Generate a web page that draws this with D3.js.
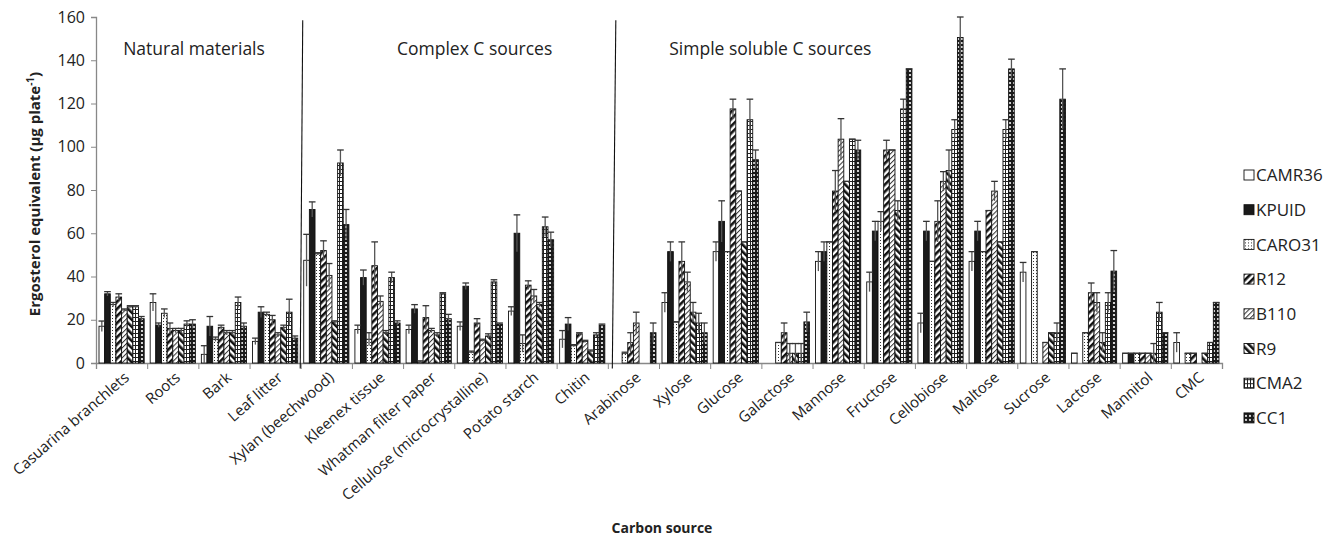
<!DOCTYPE html>
<html>
<head>
<meta charset="utf-8">
<script src="https://cdn.jsdelivr.net/npm/d3@7"></script>
<style>
  body { margin: 0; background: #fff; }
  text { font-family: "Open Sans", sans-serif; fill: #222; }
</style>
</head>
<body>
<div id="chart"></div>
<script>
var categories = ["Casuarina branchlets", "Roots", "Bark", "Leaf litter", "Xylan (beechwood)",
  "Kleenex tissue", "Whatman filter paper", "Cellulose (microcrystalline)", "Potato starch", "Chitin",
  "Arabinose", "Xylose", "Glucose", "Galactose", "Mannose", "Fructose", "Cellobiose", "Maltose",
  "Sucrose", "Lactose", "Mannitol", "CMC"];

var seriesNames = ["CAMR36", "KPUID", "CARO31", "R12", "B110", "R9", "CMA2", "CC1"];

var camr36 = [17, 28, 4, 10, 47.5, 15.5, 15.5, 17, 24, 11, 0, 28, 51.5, 0, 47, 37.5, 18.5, 47, 42, 4.5, 4.5, 9.5];
var kpuid = [32, 17.5, 17, 23.5, 71, 39.5, 25, 35.5, 60, 18, 0, 51.5, 65.5, 0, 51.5, 61, 61, 61, 0, 0, 4.5, 0];
var caro31 = [27, 23, 11, 22.5, 50.5, 11, 0.5, 5, 9, 8, 4.5, 19, 51.5, 9.5, 56, 65.5, 47, 51.5, 51.5, 14, 4.5, 4.5];
var r12 = [30.5, 16, 16.5, 20, 52, 45, 21, 18.5, 36, 13.5, 9.5, 47, 117.5, 14, 79.5, 98.5, 65.5, 70.5, 0, 32.5, 4.5, 4.5];
var b110 = [24.5, 15, 14, 13, 40.5, 28.5, 15, 10.5, 31, 10, 18.5, 37.5, 79.5, 4.5, 103.5, 98.5, 84, 79.5, 9.5, 28, 4.5, 0];
var r9 = [26, 15, 14, 16.5, 19, 14, 13, 12.5, 27, 5.5, 0, 23.5, 56, 4.5, 84, 70.5, 89, 56, 14, 9.5, 4.5, 4.5];
var cma2 = [26, 18, 28, 23.5, 92.5, 39.5, 32, 37.5, 63, 13, 0, 18.5, 112.5, 4.5, 103.5, 117.5, 108, 108, 14, 28, 23.5, 9.5];
var cc1 = [20.5, 18, 17, 11.5, 64, 18.5, 20.5, 18, 57, 17.5, 14, 14, 94, 19, 98.5, 136, 150.5, 136, 122, 42.5, 14, 28];

var camr36Err = [2.4, 4, 4, 1.5, 12, 2, 2, 2, 2, 4, 0, 4.5, 4.5, 0, 4.5, 4.5, 4.5, 4.5, 4.5, 0, 0, 4.5];
var kpuidErr = [1, 1, 4.5, 2.5, 3.5, 3.5, 2, 1.5, 8.5, 3, 0, 4.5, 9.5, 0, 4.5, 4.5, 4.5, 4.5, 0, 0, 0, 0];
var caro31Err = [1, 2, 1, 1, 0.5, 3, 0.5, 0.5, 4, 0.5, 0.5, 0, 0, 0, 0, 4.5, 0, 0, 0, 0, 0, 0];
var r12Err = [1.5, 2.5, 1, 2, 4.5, 11, 5.5, 2, 2, 0.5, 4.5, 9, 4.5, 4.5, 9.5, 4.5, 9.5, 0, 0, 4.5, 0, 0];
var b110Err = [0.5, 1, 1, 1, 5.5, 2.5, 1, 0.5, 3, 0.5, 5, 4.5, 0, 4.5, 9.5, 0, 4.5, 4.5, 0, 4.5, 0, 0];
var r9Err = [0.5, 1, 1, 1, 0.5, 1, 1, 1, 1, 0.5, 0, 4.5, 0, 4.5, 0, 4.5, 9.5, 0, 0, 4.5, 4.5, 0];
var cma2Err = [0.5, 1.5, 2.5, 6, 6, 2.5, 0.5, 1, 4.5, 1, 0, 4.5, 9.5, 4.5, 0, 4.5, 4.5, 4.5, 4.5, 4.5, 4.5, 0];
var cc1Err = [1, 2, 1.5, 1, 7, 1, 2, 0.5, 3.5, 0.5, 4.5, 4.5, 4.5, 4.5, 4.5, 0, 9.5, 4.5, 14, 9.5, 0, 0];

var yTicks = [0, 20, 40, 60, 80, 100, 120, 140, 160];

var sectionNames = ["Natural materials", "Complex C sources", "Simple soluble C sources"];
var sectionStarts = [0, 4, 10];

var seriesValues = [camr36, kpuid, caro31, r12, b110, r9, cma2, cc1];
var seriesErrors = [camr36Err, kpuidErr, caro31Err, r12Err, b110Err, r9Err, cma2Err, cc1Err];

var svgWidth = 1338;
var svgHeight = 542;
var margin = {top: 17, right: 116, bottom: 179, left: 96};
var width = svgWidth - margin.left - margin.right;
var height = svgHeight - margin.top - margin.bottom;

var svg = d3.select("#chart").append("svg")
  .attr("width", svgWidth)
  .attr("height", svgHeight);

// fill patterns, one per strain
var defs = svg.append("defs");

function pattern(id, w, h) {
  return defs.append("pattern")
    .attr("id", id)
    .attr("patternUnits", "userSpaceOnUse")
    .attr("width", w)
    .attr("height", h);
}

var p;
p = pattern("p-dots", 3, 3);
p.append("rect").attr("width", 3).attr("height", 3).attr("fill", "#fff");
p.append("rect").attr("x", 1).attr("y", 1).attr("width", 1).attr("height", 1).attr("fill", "#333");

p = pattern("p-wideup", 5, 5).attr("patternTransform", "rotate(45)");
p.append("rect").attr("width", 5).attr("height", 5).attr("fill", "#fff");
p.append("rect").attr("width", 2.6).attr("height", 5).attr("fill", "#111");

p = pattern("p-lightup", 3.5, 3.5).attr("patternTransform", "rotate(45)");
p.append("rect").attr("width", 3.5).attr("height", 3.5).attr("fill", "#fff");
p.append("rect").attr("width", 1).attr("height", 3.5).attr("fill", "#333");

p = pattern("p-widedown", 5, 5).attr("patternTransform", "rotate(-45)");
p.append("rect").attr("width", 5).attr("height", 5).attr("fill", "#fff");
p.append("rect").attr("width", 2.6).attr("height", 5).attr("fill", "#111");

p = pattern("p-hgrid", 3, 4);
p.append("rect").attr("width", 3).attr("height", 4).attr("fill", "#fff");
p.append("rect").attr("width", 3).attr("height", 1).attr("fill", "#222");
p.append("rect").attr("width", 1).attr("height", 4).attr("fill", "#222");

p = pattern("p-sphere", 4, 4);
p.append("rect").attr("width", 4).attr("height", 4).attr("fill", "#1a1a1a");
p.append("circle").attr("cx", 2).attr("cy", 2).attr("r", 1.1).attr("fill", "#fff");

var fills = ["#fff", "#1a1a1a", "url(#p-dots)", "url(#p-wideup)", "url(#p-lightup)",
  "url(#p-widedown)", "url(#p-hgrid)", "url(#p-sphere)"];

var chartGroup = svg.append("g")
  .attr("transform", `translate(${margin.left}, ${margin.top})`);

var x0 = d3.scaleBand()
  .domain(categories)
  .range([0, width]);

var x1 = d3.scaleBand()
  .domain(seriesNames)
  .range([3, x0.bandwidth() - 3]);

var xIdx = d3.scaleLinear()
  .domain([0, categories.length])
  .range([0, width]);

var y = d3.scaleLinear()
  .domain([0, 160])
  .range([height, 0]);

// y axis
var leftAxis = d3.axisLeft(y).tickValues(yTicks).tickSize(5).tickPadding(6);
var yAxis = chartGroup.append("g").call(leftAxis);
yAxis.select(".domain").attr("stroke", "#888").attr("stroke-width", 1.3);
yAxis.selectAll(".tick line").attr("stroke", "#888");
yAxis.selectAll(".tick text")
  .style("font-family", "Open Sans")
  .style("font-size", "16px")
  .attr("fill", "#222");

// x axis: ticks at category boundaries
var bottomAxis = d3.axisBottom(xIdx)
  .tickValues(d3.range(categories.length + 1))
  .tickSize(6)
  .tickFormat("");
var xAxis = chartGroup.append("g")
  .attr("transform", `translate(0, ${height})`)
  .call(bottomAxis);
xAxis.select(".domain").attr("stroke", "#888").attr("stroke-width", 1.3);
xAxis.selectAll(".tick line").attr("stroke", "#888");

chartGroup.append("g")
  .selectAll("text")
  .data(categories)
  .enter()
  .append("text")
  .attr("transform", d => `translate(${x0(d) + x0.bandwidth() / 2 + 5}, ${height + 12}) rotate(-41)`)
  .attr("text-anchor", "end")
  .attr("dy", "0.35em")
  .style("font-size", "15px")
  .text(d => d);

// bars
var barData = [];
seriesNames.forEach(function(s, i) {
  categories.forEach(function(c, j) {
    barData.push({series: s, si: i, cat: c, value: seriesValues[i][j], err: seriesErrors[i][j]});
  });
});

chartGroup.append("g")
  .selectAll("rect")
  .data(barData.filter(d => d.value > 0))
  .enter()
  .append("rect")
  .attr("x", d => x0(d.cat) + x1(d.series))
  .attr("y", d => y(d.value))
  .attr("width", x1.bandwidth())
  .attr("height", d => y(0) - y(d.value))
  .attr("fill", d => fills[d.si])
  .attr("stroke", "#111")
  .attr("stroke-width", 0.9);

// error bars
var errGroup = chartGroup.append("g")
  .attr("stroke", "#333")
  .attr("stroke-width", 1.3);

var withErr = barData.filter(d => d.value > 0);

errGroup.selectAll("line.stem")
  .data(withErr.filter(d => d.err > 0))
  .enter()
  .append("line")
  .attr("class", "stem")
  .attr("x1", d => x0(d.cat) + x1(d.series) + x1.bandwidth() / 2)
  .attr("x2", d => x0(d.cat) + x1(d.series) + x1.bandwidth() / 2)
  .attr("y1", d => y(Math.max(0, d.value - d.err)))
  .attr("y2", d => y(d.value + d.err))
  .attr("stroke", "#555");

errGroup.selectAll("line.cap")
  .data(withErr)
  .enter()
  .append("line")
  .attr("class", "cap")
  .attr("x1", d => x0(d.cat) + x1(d.series) - 0.5)
  .attr("x2", d => x0(d.cat) + x1(d.series) + x1.bandwidth() + 0.5)
  .attr("y1", d => y(d.value + d.err))
  .attr("y2", d => y(d.value + d.err));

// section divider lines
chartGroup.append("g")
  .selectAll("line")
  .data(sectionStarts.slice(1))
  .enter()
  .append("line")
  .attr("x1", (d, i) => xIdx(d) + 2 + i * 6)
  .attr("x2", (d, i) => xIdx(d) - 0.5 + i * 5)
  .attr("y1", y(158.5))
  .attr("y2", y(-2.5))
  .attr("stroke", "#111")
  .attr("stroke-width", 1.1);

var sectionOffsets = [0.53, 1.88, 1.2];
chartGroup.append("g")
  .selectAll("text")
  .data(sectionNames)
  .enter()
  .append("text")
  .attr("x", (d, i) => xIdx(sectionStarts[i] + sectionOffsets[i]))
  .attr("y", y(142.5))
  .style("font-size", "17.5px")
  .text(d => d);

// axis titles
chartGroup.append("text")
  .attr("transform", "rotate(-90)")
  .attr("x", -y(80) - 4)
  .attr("y", -margin.left + 40)
  .attr("text-anchor", "middle")
  .style("font-size", "15px")
  .style("font-weight", "bold")
  .html("Ergosterol equivalent (µg plate<tspan dy='-6' font-size='10px'>-1</tspan><tspan dy='6'>)</tspan>");

chartGroup.append("text")
  .attr("x", width / 2 + 3)
  .attr("y", height + 170)
  .attr("text-anchor", "middle")
  .style("font-size", "14px")
  .style("font-weight", "bold")
  .text("Carbon source");

// legend
var legend = svg.append("g")
  .attr("transform", `translate(${margin.left + width + 22}, 175)`);

var legendItems = legend.selectAll("g")
  .data(seriesNames)
  .enter()
  .append("g")
  .attr("transform", (d, i) => `translate(0, ${i * 34.7})`);

legendItems.append("rect")
  .attr("x", 0)
  .attr("y", -5)
  .attr("width", 10)
  .attr("height", 10)
  .attr("fill", (d, i) => fills[i])
  .attr("stroke", "#111")
  .attr("stroke-width", 0.9);

legendItems.append("text")
  .attr("x", 12)
  .attr("dy", "0.36em")
  .style("font-size", "17px")
  .text(d => d);
</script>
</body>
</html>
